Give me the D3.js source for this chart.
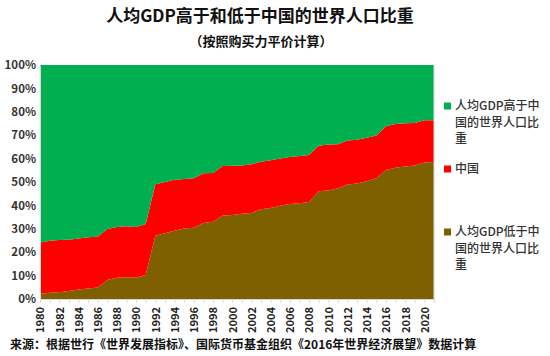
<!DOCTYPE html>
<html><head><meta charset="utf-8">
<script src="https://cdn.jsdelivr.net/npm/d3@7"></script>
<style>
html,body{margin:0;padding:0;background:#fff;}
svg{display:block;}
</style></head>
<body>
<svg id="chart" width="550" height="356"></svg>
<script>
const years = [1980,1981,1982,1983,1984,1985,1986,1987,1988,1989,1990,1991,1992,1993,1994,1995,1996,1997,1998,1999,2000,2001,2002,2003,2004,2005,2006,2007,2008,2009,2010,2011,2012,2013,2014,2015,2016,2017,2018,2019,2020,2021];
const belowChina = [2.1,2.7,2.9,3.4,4.1,4.5,4.9,8.1,9.1,9.3,9.1,10.3,27.0,28.1,29.2,30.1,30.5,32.5,33.0,35.7,35.9,36.4,36.8,38.4,38.9,39.8,40.6,40.9,41.4,46.0,46.4,47.3,48.9,49.4,50.3,51.6,55.1,56.1,56.6,57.1,58.3,58.5];
const china = [22.0,22.2,22.3,21.9,21.8,21.9,21.7,21.8,21.7,21.8,21.7,21.8,22.0,21.9,21.8,21.2,21.1,21.2,20.8,21.1,21.0,20.7,20.8,20.3,20.4,20.2,20.1,20.2,20.1,19.5,19.6,18.8,18.8,18.7,18.6,18.3,18.7,18.7,18.5,18.1,18.1,17.9];
const aboveChina = [75.9,75.1,74.8,74.7,74.1,73.6,73.4,70.1,69.2,68.9,69.2,67.9,51.0,50.0,49.0,48.7,48.4,46.3,46.2,43.2,43.1,42.9,42.4,41.3,40.7,40.0,39.3,38.9,38.5,34.5,34.0,33.9,32.3,31.9,31.1,30.1,26.2,25.2,24.9,24.8,23.6,23.6];
const xTickLabels = ["1980","1982","1984","1986","1988","1990","1992","1994","1996","1998","2000","2002","2004","2006","2008","2010","2012","2014","2016","2018","2020"];
const yTicks = [0,10,20,30,40,50,60,70,80,90,100];
const seriesKeys = ["below","china","above"];
const seriesColors = ["#7F6000","#FF0000","#00B050"];
const legendLines = [
  ["人均GDP高于中","国的世界人口比","重"],
  ["中国"],
  ["人均GDP低于中","国的世界人口比","重"]
];
const title = "人均GDP高于和低于中国的世界人口比重";
const subtitle = "（按照购买力平价计算）";
const source = "来源：根据世行《世界发展指标》、国际货币基金组织《2016年世界经济展望》数据计算";

const rows = years.map((y,i)=>({year:y, below:belowChina[i], china:china[i], above:aboveChina[i]}));
const svg = d3.select("#chart");
const font = "'Noto Sans CJK SC','Noto Sans',sans-serif";
const m = {l:40, r:434, t:65, b:299};

const x = d3.scalePoint().domain(years).range([m.l, m.r]);
const y = d3.scaleLinear().domain([0,100]).range([m.b, m.t]);

const stack = d3.stack().keys(seriesKeys);
const layers = stack(rows);
const area = d3.area().x(d=>x(d.data.year)).y0(d=>y(d[0])).y1(d=>y(d[1]));

svg.append("g").selectAll("path").data(layers).join("path")
  .attr("d", area).attr("fill",(d,i)=>seriesColors[i]);

// x axis
const xAxis = d3.axisBottom(x).tickSize(4).tickFormat(d=> xTickLabels.includes(String(d)) ? String(d) : "");
const gx = svg.append("g").attr("transform",`translate(0,${m.b})`).call(xAxis);
gx.select(".domain").attr("stroke","#d9d9d9");
gx.selectAll(".tick line").attr("stroke","#d9d9d9");
gx.selectAll(".tick text")
  .attr("font-family",font).attr("font-size",11).attr("font-weight",700).attr("fill","#222")
  .attr("transform","rotate(-90)").attr("text-anchor","end")
  .attr("x",-8).attr("y",0).attr("dy","0.35em");

// y axis
const yAxis = d3.axisLeft(y).tickValues(yTicks).tickSize(0).tickFormat(d=>d+"%");
const gy = svg.append("g").attr("transform",`translate(${m.l},0)`).call(yAxis);
gy.select(".domain").attr("stroke","#d9d9d9");
gy.selectAll(".tick text").attr("font-family",font).attr("font-size",11.5).attr("font-weight",700).attr("fill","#333").attr("x",-4);

// right border
svg.append("line").attr("x1",m.r).attr("x2",m.r).attr("y1",m.t).attr("y2",m.b).attr("stroke","#d9d9d9");

// title
svg.append("text").attr("x",260).attr("y",22).attr("text-anchor","middle")
  .attr("font-family",font).attr("font-size",17).attr("font-weight",700).attr("fill","#111").text(title);
svg.append("text").attr("x",261).attr("y",46).attr("text-anchor","middle")
  .attr("font-family",font).attr("font-size",13).attr("font-weight",700).attr("fill","#111").text(subtitle);

// legend
const legendTop = [106,169,232];
const lg = svg.append("g");
const order = [2,1,0];
legendLines.forEach((lines,k)=>{
  const si = order[k];
  lg.append("rect").attr("x",444).attr("y",legendTop[k]-3.5).attr("width",7).attr("height",7).attr("fill",seriesColors[si]);
  lines.forEach((t,j)=>{
    lg.append("text").attr("x",455).attr("y",legendTop[k]+j*16.5).attr("dy","0.35em")
      .attr("font-family",font).attr("font-size",12).attr("font-weight",500).attr("fill","#333").text(t);
  });
});

// source
svg.append("text").attr("x",10).attr("y",349)
  .attr("font-family",font).attr("font-size",12).attr("font-weight",700).attr("fill","#111").text(source);
</script>
</body></html>
